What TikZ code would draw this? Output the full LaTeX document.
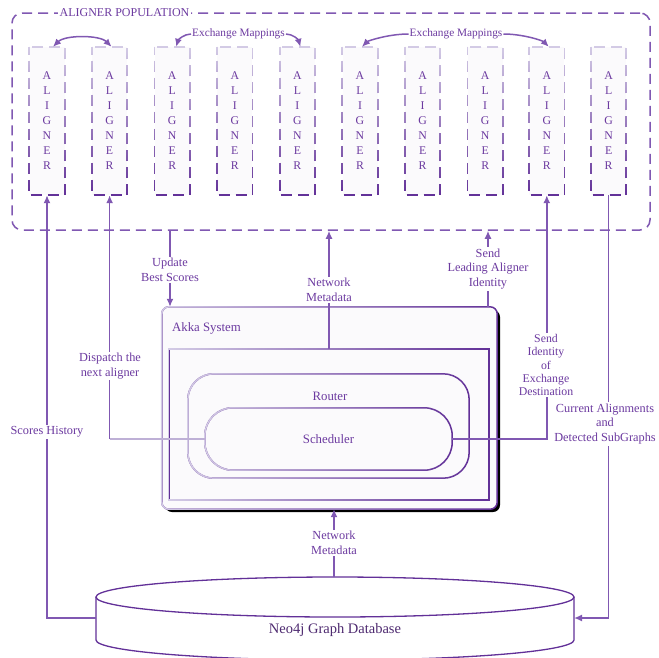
\documentclass[tikz,border=0pt]{standalone}
\usepackage{fontspec}
\setmainfont{Liberation Serif}
\usetikzlibrary{arrows.meta,fadings}
\definecolor{ptext}{RGB}{108,58,160}
\definecolor{pline}{RGB}{128,88,178}
\definecolor{pdark}{RGB}{98,48,152}
\definecolor{plight}{RGB}{212,204,230}
\definecolor{pmid}{RGB}{190,176,214}
\definecolor{boxfill}{RGB}{251,250,252}
\definecolor{dbtext}{RGB}{78,42,112}
\tikzset{
  conn/.style={draw=pline, line width=1.5pt},
  arr/.style={-{Latex[length=8pt,width=7pt]}},
  lbl/.style={fill=white, text=ptext, font=\fontsize{12.3}{14.5}\selectfont, align=center, inner sep=1.5pt},
  alignerbox/.style={minimum width=35pt, minimum height=148pt, fill=boxfill, text=ptext,
    align=center, font=\fontsize{11.8}{15}\selectfont, inner sep=0pt},
  alignerdash/.style={line width=1.8pt, dash pattern=on 11pt off 6pt, dash phase=3pt},
  grad/.style={line width=1.5pt},
}
\begin{document}
\begin{tikzpicture}[x=1pt,y=-1pt]
\useasboundingbox (0,0) rectangle (659,657);
% population box
\node[draw=pline, line width=1.5pt, dash pattern=on 10pt off 6pt, rounded corners=10pt,
  minimum width=638pt, minimum height=217pt, inner sep=0pt] (pop) at (331,121.5) {};
\node[fill=white, text=ptext, font=\fontsize{12}{14}\selectfont, inner sep=2pt] (title) at (124.5,13) {ALIGNER POPULATION};
% aligners
\foreach \i/\x in {1/47,2/109.6,3/172.2,4/234.8,5/297.4,6/360,7/422.6,8/485.2,9/546.8,10/608.6}{
  \node[alignerbox] (a\i) at (\x,121) {A\\L\\I\\G\\N\\E\\R};
  \draw[alignerdash, pdark] (a\i.north west) rectangle (a\i.south east);
  \draw[alignerdash, plight, path fading=south] (a\i.north west) rectangle (a\i.south east);
}
% exchange mappings
\draw[conn, {Latex[length=8pt,width=7pt]}-{Latex[length=8pt,width=7pt]}]
  ([xshift=6pt]a1.north) .. controls +(12,-12) and +(-12,-12) .. ([xshift=2pt]a2.north);
\node[text=ptext, font=\fontsize{11.3}{13}\selectfont, inner sep=1pt] (ex1) at (238.5,34) {Exchange Mappings};
\node[text=ptext, font=\fontsize{11.3}{13}\selectfont, inner sep=1pt] (ex2) at (456,34) {Exchange Mappings};
\draw[conn, arr] (ex1.west) .. controls +(-7,0) and +(2,-7) .. ([xshift=4pt]a3.north);
\draw[conn, arr] (ex1.east) .. controls +(7,0) and +(-2,-7) .. ([xshift=3pt]a5.north);
\draw[conn, arr] (ex2.west) .. controls +(-20,0) and +(6,-6) .. ([xshift=2pt]a6.north);
\draw[conn, arr] (ex2.east) .. controls +(20,0) and +(-6,-6) .. ([xshift=2pt]a9.north);
% Akka system
\fill[black, rounded corners=7pt] (165,310) rectangle (500,512);
\node[fill=boxfill, rounded corners=7pt, minimum width=335pt, minimum height=202pt, inner sep=0pt] (akka) at (329.5,408) {};
\draw[grad, pdark, rounded corners=7pt] (akka.north west) rectangle (akka.south east);
\draw[grad, plight, rounded corners=7pt, path fading=east] (akka.north west) rectangle (akka.south east);
\node[text=ptext, font=\fontsize{12.8}{15}\selectfont, anchor=west, inner sep=0pt] (akkalbl) at (172,328) {Akka System};
\node[minimum width=320pt, minimum height=151pt, inner sep=0pt] (sys) at (329,424.5) {};
\draw[grad, pdark] (sys.north west) rectangle (sys.south east);
\draw[grad, plight, path fading=east] (sys.north west) rectangle (sys.south east);
\node[minimum width=281pt, minimum height=104pt, inner sep=0pt] (router) at (328.5,426) {};
\draw[grad, pdark, rounded corners=26pt] (router.north west) rectangle (router.south east);
\draw[grad, plight, rounded corners=26pt, path fading=east] (router.north west) rectangle (router.south east);
\node[text=ptext, font=\fontsize{12.8}{15}\selectfont, inner sep=0pt] (routerlbl) at (330,396) {Router};
\node[minimum width=247pt, minimum height=62pt, inner sep=0pt, text=ptext, font=\fontsize{12.8}{15}\selectfont] (sched) at (328.5,439) {Scheduler};
\draw[grad, pdark, rounded corners=28pt] (sched.north west) rectangle (sched.south east);
\draw[grad, plight, rounded corners=28pt, path fading=east] (sched.north west) rectangle (sched.south east);
% database cylinder
\filldraw[fill=white, draw=pdark, line width=1.3pt] (96pt,-597pt) -- (96pt,-640pt)
  arc[start angle=180, end angle=360, x radius=239pt, y radius=20pt] -- (574pt,-597pt);
\filldraw[fill=white, draw=pdark, line width=1.3pt] (335pt,-597pt) ellipse [x radius=239pt, y radius=20pt];
\node[text=dbtext, font=\fontsize{14.5}{17}\selectfont] (db) at (335,630) {Neo4j Graph Database};
\coordinate (dbL) at (96,618);
\coordinate (dbR) at (574,618);
\coordinate (dbT) at (334,577);
% column coordinates
\coordinate (cU) at (170,0);
\coordinate (cN) at (329,0);
\coordinate (cL) at (488,0);
% connectors
\draw[conn, arr] (dbL) -| (a1.south);
\node[lbl] (l1) at (47,432) {Scores History};
\draw[conn, draw=pmid] (sched.west) -- (sched.west -| a2.south);
\draw[conn, arr] (sched.west -| a2.south) -- (a2.south);
\node[lbl] (l2) at (110,366) {Dispatch the\\next aligner};
\draw[conn, arr] (pop.south -| cU) -- (akka.north -| cU);
\node[lbl] (l3) at (170,270) {Update\\Best Scores};
\draw[conn, arr] (sys.north -| cN) -- (pop.south -| cN);
\node[lbl] (l4) at (329,290) {Network\\Metadata};
\draw[conn, arr] (akka.north -| cL) -- (pop.south -| cL);
\node[lbl] (l5) at (488,269) {Send\\Leading Aligner\\Identity};
\draw[conn, arr] (sched.east) -| (a9.south);
\node[lbl, font=\fontsize{11.8}{13.3}\selectfont] (l6) at (546,365) {Send\\Identity\\of\\Exchange\\Destination};
\draw[conn, arr] (a10.south) |- (dbR);
\node[lbl] (l7) at (605,424) {Current Alignments\\and\\Detected SubGraphs};
\draw[conn, arr] (dbT) -- (akka.south -| dbT);
\node[lbl] (l8) at (334,543) {Network\\Metadata};
\end{tikzpicture}
\end{document}
